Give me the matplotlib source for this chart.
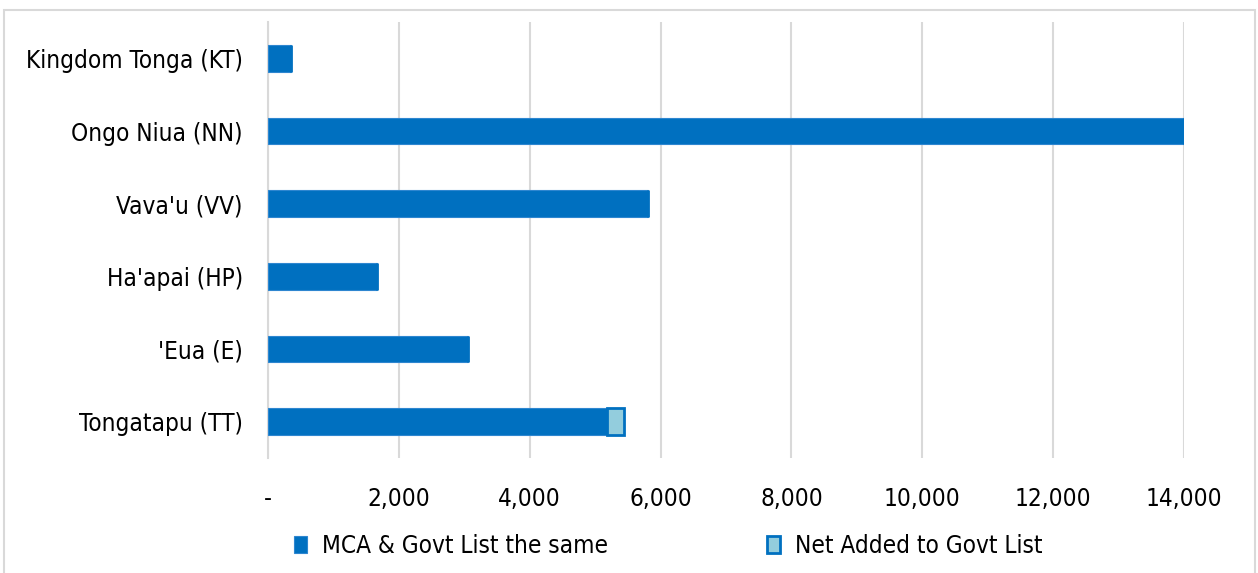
import matplotlib
matplotlib.use("Agg")
import matplotlib.pyplot as plt
from matplotlib.patches import Rectangle
from matplotlib.ticker import FuncFormatter

plt.rcParams['font.family'] = ['DejaVu Sans']
plt.rcParams['font.stretch'] = 'condensed'

categories = ["Tongatapu (TT)", "'Eua (E)", "Ha'apai (HP)", "Vava'u (VV)",
              "Ongo Niua (NN)", "Kingdom Tonga (KT)"]
same_list = [5180, 3060, 1670, 5810, 14000, 350]
net_added = [260, 0, 0, 0, 0, 0]
x_ticks = [0, 2000, 4000, 6000, 8000, 10000, 12000, 14000]

dark_blue = "#0070C0"
light_blue = "#93CDDD"
grid_grey = "#D9D9D9"

fig = plt.figure(figsize=(12.58, 5.73), dpi=100)
fig.patches.append(Rectangle((0.003, -0.01), 0.995, 0.992, transform=fig.transFigure,
                             fill=False, edgecolor="#D9D9D9", linewidth=1.5))
ax = fig.add_axes([268/1258, 1 - 458/573, (1184 - 268)/1258, (458 - 22)/573])

y = list(range(len(categories)))
ax.barh(y, same_list, height=0.37, color=dark_blue, edgecolor="#2E86D0",
        linewidth=0.8, label="MCA & Govt List the same", zorder=3)
ax.barh(y, net_added, left=same_list, height=0.37, color=light_blue,
        edgecolor=dark_blue, linewidth=2, label="Net Added to Govt List", zorder=3)

ax.set_xlim(0, 14000)
ax.set_ylim(-0.5, len(categories) - 0.5)
ax.set_xticks(x_ticks)
ax.xaxis.set_major_formatter(FuncFormatter(lambda v, p: "-" if v == 0 else f"{int(v):,}"))
ax.set_yticks(y)
ax.set_yticklabels(categories)
ax.tick_params(axis='both', length=0, labelsize=17.5, colors="#000000")
ax.tick_params(axis='x', pad=21)
ax.tick_params(axis='y', pad=18)
ax.grid(axis='x', color=grid_grey, linewidth=1.5, zorder=0)
for s in ["top", "right", "bottom"]:
    ax.spines[s].set_visible(False)
ax.spines["left"].set_color(grid_grey)
ax.spines["left"].set_linewidth(1.5)

leg = fig.legend(loc="lower center", bbox_to_anchor=(0.531, -0.012), ncol=2, frameon=False,
                 fontsize=17.5, handlelength=0.55, handleheight=0.75, columnspacing=6.55,
                 handletextpad=0.6)

fig.savefig("out.png", dpi=100)
